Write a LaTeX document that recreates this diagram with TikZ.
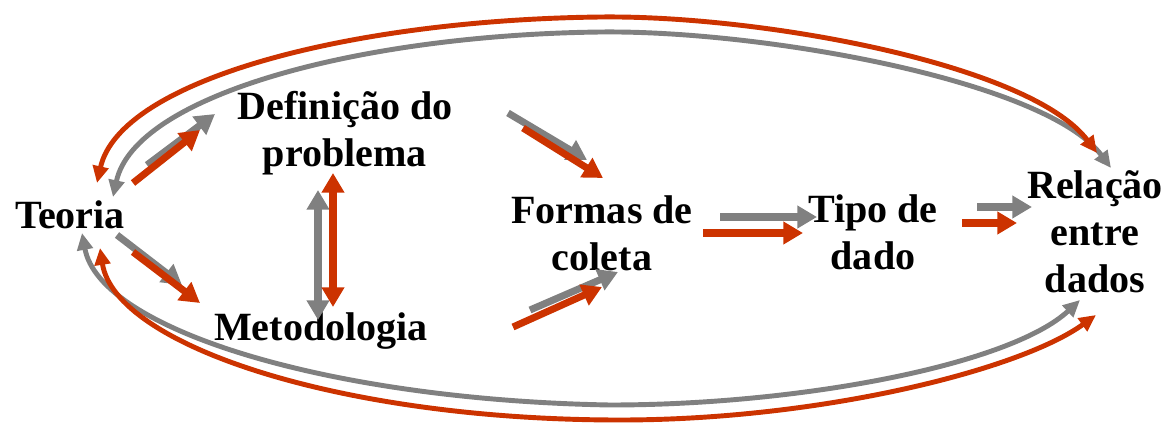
\documentclass[tikz,border=0pt]{standalone}
\usepackage{fontspec}
\setmainfont{Liberation Serif}
\usetikzlibrary{arrows.meta}
\definecolor{rd}{HTML}{CC3300}
\definecolor{gr}{HTML}{808080}
\begin{document}
\begin{tikzpicture}[x=0.025cm,y=-0.025cm,
  lbl/.style={font=\bfseries\fontsize{28.5}{33.3}\selectfont, align=center, inner sep=0pt, anchor=base},
  sarr/.style={line width=5pt, -{Triangle[length=14pt,width=15.5pt]}},
  darr/.style={line width=5pt, {Triangle[length=14pt,width=15.5pt]}-{Triangle[length=14pt,width=15.5pt]}},
  carr/.style={line width=3.5pt, {Triangle[length=12pt,width=11pt]}-{Triangle[length=12pt,width=11pt]}},
  redc/.style={draw=rd, fill=rd},
  grayc/.style={draw=gr, fill=gr}]
\useasboundingbox (0,0) rectangle (1173,422);

% nodes (anchor base = baseline of the last line)
\node[lbl] (teoria) at (70,228) {Teoria};
\node[lbl] (defin) at (345,166) {Definição do\\problema};
\node[lbl] (metod) at (321,340) {Metodologia};
\node[lbl] (formas) at (602,270) {Formas de\\coleta};
\node[lbl] (tipo) at (873,269) {Tipo de\\dado};
\node[lbl] (relac) at (1095,292) {Relação\\entre\\dados};

% endpoints
\coordinate (g1s) at (147,165); \coordinate (g1e) at (215,114);
\coordinate (r1s) at (133,183); \coordinate (r1e) at (200,130);
\coordinate (g2s) at (117,235); \coordinate (g2e) at (182,285);
\coordinate (r2s) at (133,252); \coordinate (r2e) at (200,303);
\coordinate (g3s) at (318,190); \coordinate (g3e) at (318,320);
\coordinate (r3s) at (333,173); \coordinate (r3e) at (333,307);
\coordinate (g4s) at (508,113); \coordinate (g4e) at (587,160);
\coordinate (r4s) at (523,128); \coordinate (r4e) at (603,178);
\coordinate (g5s) at (530,310); \coordinate (g5e) at (618,272);
\coordinate (r5s) at (513,327); \coordinate (r5e) at (602,287);
\coordinate (g6s) at (720,217); \coordinate (g6e) at (817,217);
\coordinate (r6s) at (703,233); \coordinate (r6e) at (803,233);
\coordinate (g7s) at (977,207); \coordinate (g7e) at (1032,207);
\coordinate (r7s) at (962,223); \coordinate (r7e) at (1017,223);
\coordinate (gts) at (113,197); \coordinate (gtm) at (600,32); \coordinate (gte) at (1111,168);
\coordinate (rts) at (97,183);  \coordinate (rtm) at (600,17); \coordinate (rte) at (1097,153);
\coordinate (gbs) at (82,233);  \coordinate (gbm) at (610,405); \coordinate (gbe) at (1080,300);
\coordinate (rbs) at (100,248); \coordinate (rbm) at (620,420); \coordinate (rbe) at (1096,315);

% straight arrows
\draw[sarr,grayc] (g1s) -- (g1e);
\draw[sarr,redc] (r1s) -- (r1e);
\draw[sarr,grayc] (g2s) -- (g2e);
\draw[sarr,redc] (r2s) -- (r2e);
\draw[darr,grayc] (g3s) -- (g3e);
\draw[darr,redc] (r3s) -- (r3e);
\draw[sarr,grayc] (g4s) -- (g4e);
\draw[sarr,redc] (r4s) -- (r4e);
\draw[sarr,grayc] (g5s) -- (g5e);
\draw[sarr,redc] (r5s) -- (r5e);
\draw[sarr,grayc] (g6s) -- (g6e);
\draw[sarr,redc] (r6s) -- (r6e);
\draw[sarr,grayc] (g7s) -- (g7e);
\draw[sarr,redc] (r7s) -- (r7e);

% big loops
\draw[carr,grayc,fill=none] (gts) .. controls (135,95) and (360,35) .. (gtm)
   .. controls (760,30) and (1045,80) .. (gte);
\draw[carr,redc,fill=none] (rts) .. controls (120,80) and (350,20) .. (rtm)
   .. controls (760,15) and (1030,64) .. (rte);
\draw[carr,grayc,fill=none] (gbs) .. controls (100,330) and (330,400) .. (gbm)
   .. controls (800,405) and (1010,365) .. (gbe);
\draw[carr,redc,fill=none] (rbs) .. controls (115,345) and (340,420) .. (rbm)
   .. controls (820,420) and (1020,370) .. (rbe);
\end{tikzpicture}
\end{document}
